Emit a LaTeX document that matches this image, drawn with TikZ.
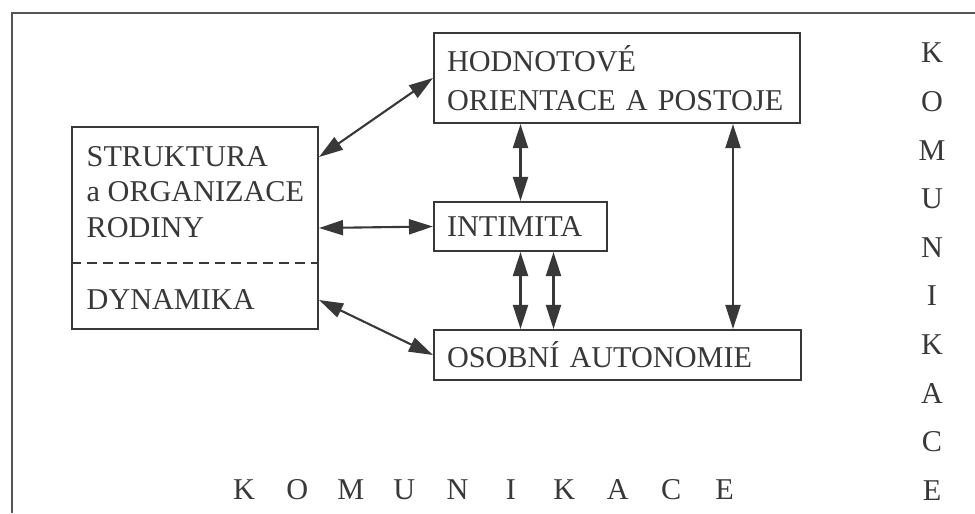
\documentclass[tikz,border=0pt]{standalone}
\usepackage{fontspec}
\setmainfont{Liberation Serif}
\usetikzlibrary{arrows.meta}
\definecolor{ink}{gray}{0.22}
\newcommand\boxfont{\fontsize{8.6}{11}\selectfont\hyphenpenalty=10000\relax}
\begin{document}
\begin{tikzpicture}[x=1cm,y=-1cm,
  box/.style={draw=ink, line width=0.6pt, align=left, inner xsep=0.13cm, inner ysep=0pt,
    text=ink, font=\boxfont},
  link/.style={{Triangle[length=2.4mm,width=1.5mm]}-{Triangle[length=2.4mm,width=1.5mm]},
    draw=ink, line width=0.6pt},
  letter/.style={text=ink, inner sep=0pt, font=\fontsize{8.6}{10.1}\selectfont}]
\useasboundingbox (0,0) rectangle (9.75,5.13);
\draw[ink!85, line width=0.8pt] (0.12,5.13) -- (0.12,0.13) -- (9.75,0.13);

\node[box, minimum width=2.46cm, minimum height=2.02cm] (rod) at (1.95,2.28) {};
\node[letter, anchor=west, align=left] (struk) at (0.86,1.92) {STRUKTURA\\a ORGANIZACE\\RODINY};
\node[letter, anchor=west] (dyn) at (0.86,3.00) {DYNAMIKA};
\coordinate (cut) at (0,2.63);
\draw[ink, line width=0.5pt, dash pattern=on 1mm off 0.6mm] (rod.west |- cut) -- (rod.east |- cut);

\node[box, minimum width=3.66cm, minimum height=0.9cm, text width=3.4cm] (hod) at (6.17,0.78) {HODNOTOVÉ\\ORIENTACE A POSTOJE};
\node[box, minimum width=1.73cm, minimum height=0.49cm, text width=1.47cm] (int) at (5.205,2.265) {INTIMITA};
\node[box, minimum width=3.67cm, minimum height=0.5cm, text width=3.41cm] (oso) at (6.175,3.55) {OSOBNÍ AUTONOMIE};

\draw[link] ([yshift=0.71cm]rod.east) -- (hod.west);
\draw[link] (rod.east) -- (int.west);
\draw[link] ([yshift=-0.72cm]rod.east) -- (oso.west);
\draw[link] (int.north) -- (int.north |- hod.south);
\draw[link] (int.south) -- (int.south |- oso.north);
\draw[link] ([xshift=0.33cm]int.south) -- ([xshift=0.33cm]int.south |- oso.north);
\draw[link] ([xshift=1.16cm]hod.south) -- ([xshift=1.16cm]hod.south |- oso.north);

\foreach \c [count=\i from 0] in {K,O,M,U,N,I,K,A,C,E} {
  \node[letter] (h\i) at (2.44+0.534*\i,4.90) {\c};
  \node[letter] (v\i) at (9.32,0.53+0.486*\i) {\c};
}
\end{tikzpicture}
\end{document}
